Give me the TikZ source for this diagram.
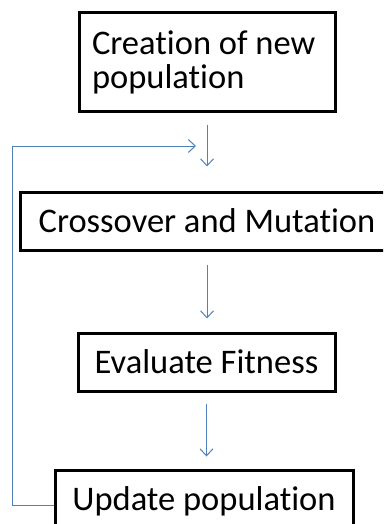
\documentclass[tikz,border=0pt]{standalone}
\usepackage{fontspec}
\setmainfont[Ligatures=NoCommon]{Carlito}
\usepackage{xcolor}
\usetikzlibrary{arrows.meta}
\definecolor{flowblue}{RGB}{79,129,189}

\tikzset{
  stage/.style={draw=black,line width=3pt,inner sep=13pt,minimum height=58pt,
    font=\fontsize{34.5}{34}\selectfont},
  flow/.style={draw=flowblue,line width=1pt,-{Straight Barb[length=7pt,width=13pt]}}
}

\begin{document}
\begin{tikzpicture}[x=1pt,y=1pt]
\useasboundingbox (0,0) rectangle (383,-524);
\clip (0,0) rectangle (383,-524);

\node[stage,text width=230pt,inner xsep=13pt,minimum height=99pt,align=flush left] (create) at (207,-62.5) {Creation of new\\population};
\node[stage,minimum width=374pt] (cross) at (207,-221) {Crossover and Mutation};
\node[stage,minimum width=257pt] (eval) at (206.5,-362) {Evaluate Fitness};
\node[stage,minimum width=298pt,minimum height=62pt] (update) at (204,-501) {Update population};

\coordinate (corner) at (12,-146);
\coordinate (back) at (196,-146);

\path (create) edge [flow,shorten <=11pt,shorten >=24pt] (create |- cross.north);
\path (cross) edge [flow,shorten <=13pt,shorten >=13pt] (cross |- eval.north);
\path (eval) edge [flow,shorten <=11pt,shorten >=12pt] (eval |- update.north);
\draw[flow] ([yshift=-4pt]update.west) -| (corner) -- (back);

\end{tikzpicture}
\end{document}
